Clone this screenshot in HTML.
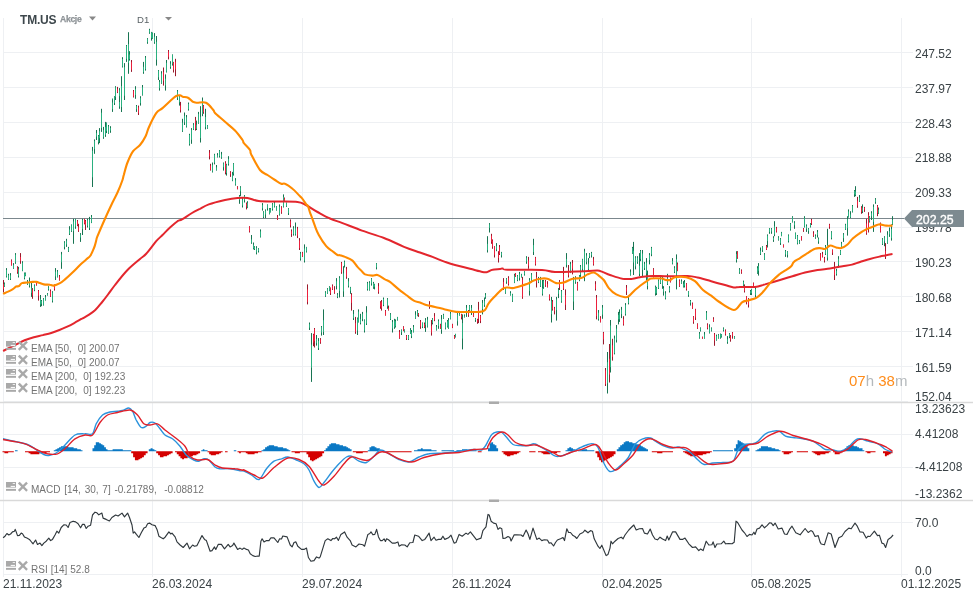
<!DOCTYPE html>
<html><head><meta charset="utf-8"><style>
html,body{margin:0;padding:0;background:#fff;width:976px;height:600px;overflow:hidden;position:relative;font-family:"Liberation Sans",sans-serif}
div{will-change:transform}
.yl{position:absolute;left:915px;font-size:12px;line-height:15px;color:#3a4246;white-space:nowrap}
.xl{position:absolute;top:577px;font-size:12px;line-height:15px;color:#3a4246;white-space:nowrap}
.lg{position:absolute;left:31px;font-size:10px;line-height:12px;color:#737373;white-space:pre;word-spacing:0.2px}
</style></head><body>
<svg width="976" height="600" viewBox="0 0 976 600" style="position:absolute;left:0;top:0"><g stroke="#eef0f3" stroke-width="1"><line x1="3" y1="52.5" x2="913" y2="52.5"/><line x1="3" y1="87.5" x2="913" y2="87.5"/><line x1="3" y1="122.5" x2="913" y2="122.5"/><line x1="3" y1="157.5" x2="913" y2="157.5"/><line x1="3" y1="192.5" x2="913" y2="192.5"/><line x1="3" y1="227.5" x2="913" y2="227.5"/><line x1="3" y1="261.5" x2="913" y2="261.5"/><line x1="3" y1="296.5" x2="913" y2="296.5"/><line x1="3" y1="331.5" x2="913" y2="331.5"/><line x1="3" y1="366.5" x2="913" y2="366.5"/><line x1="3" y1="401.5" x2="908" y2="401.5"/><line x1="3.5" y1="18" x2="3.5" y2="577"/><line x1="152.5" y1="18" x2="152.5" y2="577"/><line x1="302.5" y1="18" x2="302.5" y2="577"/><line x1="452.5" y1="18" x2="452.5" y2="577"/><line x1="602.5" y1="18" x2="602.5" y2="577"/><line x1="751.5" y1="18" x2="751.5" y2="577"/><line x1="901.5" y1="18" x2="901.5" y2="577"/><line x1="3" y1="434.5" x2="913" y2="434.5"/><line x1="3" y1="467.5" x2="913" y2="467.5"/><line x1="3" y1="522.5" x2="913" y2="522.5"/><line x1="3" y1="574.5" x2="908" y2="574.5"/></g><g stroke="#d9d9d9" stroke-width="1.5"><line x1="0" y1="402.5" x2="973" y2="402.5"/><line x1="0" y1="500.5" x2="973" y2="500.5"/></g><rect x="489" y="401.5" width="10" height="2.5" fill="#ababab"/><rect x="489" y="499.5" width="10" height="2.5" fill="#ababab"/><line x1="3" y1="218.5" x2="904" y2="218.5" stroke="#7b878d" stroke-width="1.2"/><path d="M736.5 251.2V262.5M739.5 268.1V273.8M757.5 266.2V273.8M758.5 263.1V275.6M760.5 247.5V255M762.5 246.2V251.9M764.5 253.1V260M767.5 234.4V247.5M769.5 228.1V233.8M771.5 228.1V233.8M773.5 236.2V241.9M774.5 221.2V236.2M778.5 236.2V240.6M780.5 238.1V245M781.5 231.9V236.2M785.5 250V256.9M787.5 251.2V257.5M788.5 234.4V242.5M790.5 223.1V230.6M792.5 216.2V222.5M794.5 221.2V228.8M795.5 232.5V238.8M797.5 235V244.4M799.5 240V243.8M804.5 216.2V227.5M806.5 224.4V231.9M808.5 228.1V233.8M810.5 223.1V227.5M815.5 234.4V238.8M817.5 230V237.5M818.5 237.5V243.8M825.5 245V255M827.5 228.8V260.6M831.5 231.2V239.4M836.5 268.8V275.6M838.5 256.2V267.5M840.5 250V255M841.5 241.9V247.5M843.5 233.1V241.9M845.5 223.8V230M847.5 216.2V235.6M848.5 209.4V217.5M850.5 211.2V218.1M852.5 205V212.5M854.5 190V196.9M855.5 186.2V196.2M859.5 195V201.9M862.5 204.4V213.1M869.5 216.2V222.5M871.5 211.2V220M873.5 204.4V231.9M875.5 198.1V203.8M878.5 207.5V213.8M882.5 238.1V245M884.5 236.2V246.2M887.5 231.2V243.8M889.5 227.5V236.9M891.5 224.4V240.6M892.5 216.2V225M4.5 282.5V286.9M6.5 268.1V277.5M8.5 273.8V280M10.5 273.1V280M13.5 263.1V268.8M15.5 253.1V263.8M18.5 266.9V277.5M22.5 261.2V271.2M24.5 272.5V279.4M25.5 272.5V276.2M27.5 280V285M29.5 277.5V287.5M31.5 282.5V296.9M34.5 284.4V291.2M40.5 295V306.9M41.5 300V306.2M43.5 298.1V305.6M45.5 295V300.6M47.5 293.1V295.6M48.5 286.2V290.6M52.5 291.2V302.5M55.5 268.1V280M57.5 270V277.5M61.5 251.9V268.8M64.5 241.2V249.4M66.5 238.8V246.9M68.5 246.9V251.9M69.5 226.2V235M71.5 224.4V231.9M73.5 218.8V243.8M75.5 218.8V228.8M80.5 233.1V241.9M82.5 218.8V235M87.5 218.8V227.5M89.5 216.9V230M91.5 215V223.1M92.5 146.9V187M94.5 139.4V153.8M96.5 130V140M98.5 135V144.4M99.5 128.1V143.1M101.5 108.8V131.9M103.5 126.9V138.8M105.5 121.9V136.9M106.5 122.5V133.1M108.5 125V133.8M110.5 126.2V132.8M182.5 118.8V131.9M184.5 112.5V125M186.5 115V127.5M189.5 133.8V145.6M191.5 128.1V143.8M193.5 123.1V130M196.5 120.6V130M198.5 111.9V123.8M200.5 106.2V142.5M205.5 108.8V129.4M207.5 125V128.8M112.5 98.8V99.8M114.5 96.2V105M115.5 86.2V100M119.5 88.1V102.5M121.5 76.2V112M122.5 57.2V67.5M124.5 63.1V100M126.5 45V61.9M128.5 32.2V73.8M129.5 51.2V60.6M135.5 86.2V98.8M142.5 85V95.6M143.5 61.9V73.8M145.5 56V70.6M147.5 38.1V43.8M149.5 28.8V33.8M151.5 31.9V40.6M152.5 32.5V38.8M154.5 33.1V43.8M156.5 36V65.6M158.5 70V80M159.5 80V90.6M161.5 71.2V83.8M165.5 74.4V90.6M166.5 60V72.5M170.5 61.2V68.8M172.5 54.4V65.6M177.5 90V100M112.5 98.8V111.9M119.5 97.5V108.8M121.5 95V111.9M136.5 105V111.9M140.5 96.2V105.6M179.5 95V105.6M188.5 102.5V110.6M202.5 97.5V116.2M212.5 162.5V172.5M214.5 153.8V164.4M216.5 165V170.6M217.5 153.1V157.5M219.5 150V157.5M221.5 151.9V158.8M223.5 162.5V170.6M226.5 163.8V175.6M228.5 156.2V165.6M232.5 171.9V181.2M233.5 163.1V175.6M235.5 178.1V185.6M239.5 195V203.8M240.5 186.2V196.2M242.5 197.5V207.5M244.5 195V202.5M247.5 201.2V208.1M251.5 235V243.8M253.5 242.5V249.4M254.5 246.2V250M256.5 246.2V254.4M258.5 248.1V252.5M260.5 229.4V237.5M262.5 203.1V210.6M263.5 211.2V218.1M265.5 209.4V218.1M267.5 204.4V210.6M269.5 208.1V214.4M270.5 208.1V212.5M272.5 203.1V210.6M274.5 201.9V207.5M276.5 206.2V210.6M279.5 204.4V215.6M283.5 194.4V207.5M286.5 202.5V206.9M288.5 208.1V215M293.5 226.2V235.6M295.5 222.5V235.6M300.5 251.9V260.6M304.5 244.4V262.5M306.5 246.9V252.5M309.5 322.5V330M321.5 326.2V335M323.5 309.4V335M325.5 291.2V296.9M327.5 288.1V293.8M329.5 286.2V291.2M336.5 278.1V289.4M337.5 293.1V298.1M339.5 276.2V297.5M343.5 266.2V296.9M344.5 260.6V267.5M348.5 278.1V287.5M350.5 286.9V293.8M353.5 310V320M357.5 317.5V335M358.5 309.4V322.5M360.5 313.8V324.4M362.5 311.9V321.2M364.5 319.4V332.5M366.5 306.2V325M367.5 281.9V290.6M369.5 281.2V290.6M371.5 278.1V285.6M373.5 281.9V288.8M374.5 283.8V289.4M376.5 263.1V269.4M383.5 297.5V306.2M387.5 298.1V308.8M390.5 313.1V320M392.5 320V332.5M394.5 318.8V328.8M395.5 319.4V327.5M397.5 316.9V320.6M415.5 311.2V318.8M417.5 310V316.2M311.5 333.1V381.9M316.5 335V345.6M318.5 338.1V350M321.5 326.2V335.6M401.5 329.4V335M404.5 329.4V332.5M408.5 335V340M410.5 328.1V333.8M411.5 330V338.1M413.5 325V332.5M487.5 236.2V252.5M489.5 223.1V232.5M496.5 243.1V251.2M501.5 251.9V257.5M506.5 278.1V283.8M514.5 273.8V283.1M517.5 275V281.2M519.5 271.9V280.6M521.5 273.8V277.5M524.5 271.2V275.6M526.5 256.2V263.8M529.5 278.1V290M531.5 273.1V282.5M533.5 238.8V255M538.5 276.9V283.1M540.5 276.9V286.9M422.5 322.5V328.1M425.5 318.1V331.9M427.5 316.9V327.5M432.5 318.1V324.4M436.5 325V330.6M438.5 319.4V328.8M441.5 315V333.8M443.5 313.8V318.8M445.5 322.5V329.4M447.5 320V327.5M448.5 318.1V328.8M450.5 311.9V319.4M455.5 333.8V337.5M457.5 313.1V325.6M459.5 313.1V315.6M462.5 314.4V349.4M464.5 314.4V317.5M466.5 305V316.9M469.5 305V311.9M471.5 305V315M475.5 318.1V321.9M482.5 300V314.4M484.5 297.5V306.9M485.5 293.1V298.8M505.5 287.5V293.8M510.5 291.2V295.6M512.5 293.8V301.9M529.5 280V295.6M542.5 280V295.6M543.5 280V288.8M551.5 297.5V307.5M556.5 297.5V307.5M558.5 288.1V298.1M561.5 294.4V302.5M566.5 253.1V267.5M570.5 261.9V273.1M573.5 276.9V310M575.5 276.2V283.8M579.5 275V281.2M580.5 265V276.9M582.5 258.8V271.2M584.5 248.8V281.2M586.5 253.1V264.4M588.5 258.1V271.2M589.5 253.1V258.1M591.5 251.9V257.5M630.5 269.4V275.6M632.5 246.9V253.8M633.5 241.9V275M635.5 256.2V269.4M637.5 256.2V263.8M639.5 253.1V276.2M640.5 250V261.2M642.5 250V276.2M644.5 261.9V270M646.5 258.1V280.6M647.5 270.6V289.4M649.5 253.1V264.4M651.5 246.9V256.2M655.5 285.6V295.6M656.5 286.9V295M658.5 279.4V288.8M660.5 277.5V283.8M551.5 296.9V322.5M556.5 296.9V320.6M561.5 290V302.5M598.5 310V320.6M602.5 305V318.8M614.5 335.6V354.4M616.5 325V342.5M618.5 311.9V324.4M619.5 309.4V321.9M621.5 306.9V318.1M625.5 303.1V315.6M628.5 296.9V304.4M607.5 352V393.5M610.5 320V372.5M658.5 280V288.8M660.5 276.9V283.8M662.5 276.9V288.8M663.5 286.2V295.6M665.5 291.2V299.4M667.5 273.8V285M669.5 286.2V292.5M672.5 258.1V264.4M674.5 266.2V273.1M676.5 254.4V289.4M681.5 279.4V283.8M683.5 281.2V287.5M684.5 280V287.5M688.5 291.2V296.9M690.5 300V305.6M743.5 280.6V286.2M750.5 290V295M751.5 288.8V295M755.5 287.5V297.5M700.5 327.4V331.5M699.5 332V338.7M704.5 332V338.7M706.5 311V319.7M709.5 324.3V333.5M711.5 327.4V331.5M716.5 334.6V340.7M718.5 334.1V338.7M720.5 333.5V338.7M721.5 334.1V337.6M723.5 327.4V331.5M727.5 336.1V343.8M729.5 333V338.2M734.5 336.1V338.7" stroke="#187452" stroke-width="1" fill="none"/><path d="M736.5 254V260.2M739.5 269.5V272.7M757.5 268.2V272.9M758.5 265.9V270.8M760.5 250.8V253.7M762.5 246.6V250.3M764.5 254.3V259.8M767.5 235.6V241.1M769.5 228.6V231.9M771.5 229.1V231.6M773.5 237.9V240M774.5 226.3V234.5M778.5 237.4V239.9M780.5 239.2V243M781.5 232.6V236.1M785.5 251.1V254.5M787.5 251.9V254.9M788.5 235.4V241.1M790.5 224V229.5M792.5 217.3V222.1M794.5 222.7V225.3M795.5 233.2V238M797.5 235.8V243.3M799.5 241.4V242.8M804.5 217.9V226.7M806.5 225.8V228.8M808.5 228.8V231M810.5 223.5V226.6M815.5 235.9V237.7M817.5 232V235M818.5 238.7V241.5M825.5 246.6V253.9M827.5 245V257.6M831.5 232.2V237.9M836.5 270.9V274M838.5 258.8V264.6M840.5 250.5V254.4M841.5 243.5V247M843.5 234.4V238.2M845.5 224.8V229.6M847.5 219.2V228.2M848.5 211.5V217M850.5 214.4V217.4M852.5 206.1V211.7M854.5 190.7V194.4M855.5 191.5V195.1M859.5 197.7V200.9M862.5 207.6V211.4M869.5 216.7V221.5M871.5 213.2V216.3M873.5 206.8V221.9M875.5 199.4V201.9M878.5 209.9V213.1M882.5 239.4V244M884.5 237.3V241.4M887.5 234.7V243M889.5 231.1V234.4M891.5 229V238.2M892.5 220V224.3M4.5 283.6V286.6M6.5 270V276.4M8.5 275.2V279.6M10.5 275.3V278.7M13.5 265V268M15.5 254.7V262.5M18.5 269.2V275.8M22.5 262.8V270.8M24.5 273.4V278.1M25.5 273.2V275.7M27.5 281.7V284.4M29.5 281.6V285.5M31.5 287.7V292.9M34.5 285.5V290.1M40.5 298.8V304.6M41.5 300.9V303.7M43.5 299.2V304.9M45.5 297V300.1M47.5 293.9V295.1M48.5 287.4V289.3M52.5 292.4V300.8M55.5 271.6V276.5M57.5 271.5V277M61.5 254.3V262.3M64.5 242.5V247M66.5 240.7V244.4M68.5 247.8V250.9M69.5 229.5V233.8M71.5 225.1V231M73.5 221.4V231M75.5 219.2V226.6M80.5 234.5V237.6M82.5 220V229M87.5 220.2V225.8M89.5 219.8V228.1M91.5 216.9V222.7M92.5 150.8V177.3M94.5 141.1V149.2M96.5 133.1V136.6M98.5 135.8V142.1M99.5 131.2V138.3M101.5 112.7V128.1M103.5 129.9V137.3M105.5 126.9V134.8M106.5 123V131.1M108.5 126.3V133.1M110.5 128V130.7M182.5 122.6V130.8M184.5 115.8V122.3M186.5 117.2V126.6M189.5 135V144.2M191.5 129.8V139.8M193.5 124.7V129.4M196.5 124.7V128.9M198.5 113.9V123.3M200.5 116.7V138.1M205.5 117V127.2M207.5 125.4V128.1M112.5 98.8V99.4M114.5 96.7V103M115.5 87.3V97.1M119.5 90.3V96.2M121.5 86.1V106.9M122.5 59V66.5M124.5 67.2V95.8M126.5 45.8V58.9M128.5 44.1V62.8M129.5 54.5V59M135.5 88.9V95M142.5 87.2V95M143.5 66.8V72.1M145.5 57.6V69.1M147.5 38.8V42.2M149.5 29.8V32.7M151.5 32.4V37.9M152.5 33.2V38.1M154.5 36.7V42.3M156.5 41.8V59.7M158.5 70.7V77.3M159.5 81.9V88.2M161.5 73.4V83.2M165.5 78.7V85.4M166.5 62.8V71.7M170.5 63.7V67M172.5 55V63.6M177.5 91.3V97.9M112.5 102.5V109.2M119.5 102V106.5M121.5 100.1V106.9M136.5 106.1V109.2M140.5 98.2V103.1M179.5 96.1V102.4M188.5 104V109.2M202.5 100.4V114.1M212.5 164.8V171.6M214.5 154.7V162.7M216.5 167.3V170M217.5 155.2V157.1M219.5 150.5V156.1M221.5 154.3V157.5M223.5 163.4V167.2M226.5 164.6V173M228.5 159V164M232.5 174.4V180.6M233.5 163.7V173.6M235.5 180.3V184.6M239.5 196V199.8M240.5 187.3V191.3M242.5 199.6V205.5M244.5 195.7V200.3M247.5 202.8V207.8M251.5 239.4V242.7M253.5 244.6V248.4M254.5 247.1V249M256.5 247.8V252.5M258.5 248.4V251.1M260.5 231.4V236.8M262.5 205.1V208.4M263.5 212.2V216.9M265.5 210.7V214.5M267.5 204.8V208.4M269.5 209.2V213.9M270.5 209.2V212.1M272.5 204.3V209.1M274.5 203V206.4M276.5 206.9V210.4M279.5 206.8V214.5M283.5 196.9V206.7M286.5 203.1V206.1M288.5 208.6V213.2M293.5 228.2V234.2M295.5 228.3V234.3M300.5 253.4V258.6M304.5 248.5V260.6M306.5 247.1V251.5M309.5 324.2V327.7M321.5 327.2V331.7M323.5 320.2V332M325.5 292.4V295.8M327.5 288.8V293.2M329.5 286.9V290.8M336.5 281.2V286M337.5 294.6V296.7M339.5 277.8V291.1M343.5 273.4V291.4M344.5 261.8V265.3M348.5 281.3V285.8M350.5 287.4V290.8M353.5 313.9V318.1M357.5 318.5V330.5M358.5 311.6V322M360.5 318.9V323M362.5 313.9V319M364.5 320.3V330.6M366.5 312.5V323.5M367.5 283.2V289.1M369.5 282.7V290.1M371.5 278.8V283.4M373.5 283.1V287.4M374.5 284.3V286.8M376.5 263.7V267.4M383.5 298.9V305M387.5 299.2V306.4M390.5 314.3V319.2M392.5 322.1V328.5M394.5 320.6V327.2M395.5 321.2V326.2M397.5 317.2V319.8M415.5 314.6V318.1M417.5 311.1V315.9M311.5 344.6V367.7M316.5 339V343.2M318.5 341V348.1M321.5 328.3V332.5M401.5 330.2V332.3M404.5 329.7V331.8M408.5 335.6V339.2M410.5 329.8V333.4M411.5 332.2V336.2M413.5 326.9V332M487.5 243.8V250.2M489.5 224.3V227.9M496.5 245.9V249.5M501.5 252.6V255.3M506.5 278.8V281.7M514.5 275.5V282.7M517.5 275.7V280.1M519.5 273.8V278.1M521.5 274.4V277.3M524.5 272.1V274.4M526.5 257.7V261.7M529.5 280V288.4M531.5 274.5V281.3M533.5 245.1V252M538.5 278.3V282M540.5 278.2V286M422.5 322.8V326.8M425.5 319.9V325.2M427.5 319.5V326.8M432.5 318.8V322.9M436.5 326.6V329.9M438.5 321.1V326M441.5 319.2V329.9M443.5 314.8V318.2M445.5 323.2V328.5M447.5 321.3V326.7M448.5 320.1V327.9M450.5 313.5V318.9M455.5 334.2V336.9M457.5 314.6V321.3M459.5 313.8V315.5M462.5 323.1V338.6M464.5 315.7V317.2M466.5 307.7V312.2M469.5 305.6V310.4M471.5 307.9V311.7M475.5 318.7V320M482.5 302.8V309.1M484.5 301.2V305.2M485.5 294.7V297.4M505.5 288.4V292.8M510.5 293V295.1M512.5 294.5V300.7M529.5 282.1V290.9M542.5 288V293.8M543.5 281.1V287.3M551.5 300.6V304.2M556.5 299.4V306.1M558.5 289.6V293.8M561.5 295.5V301.5M566.5 258.9V264.9M570.5 264.1V272.3M573.5 279.2V301.5M575.5 277.8V282.1M579.5 275.6V280.2M580.5 266.5V274.9M582.5 259.4V268.9M584.5 251.4V274.9M586.5 255.5V262.2M588.5 263.7V269.2M589.5 254.1V256.5M591.5 253.1V255.3M630.5 271.7V275.1M632.5 248V253M633.5 250.7V262.5M635.5 257.6V266.4M637.5 257.6V262.2M639.5 265.7V273.9M640.5 251V258.9M642.5 253.5V269.9M644.5 263.9V268.2M646.5 262.6V273.5M647.5 276.1V286M649.5 254.9V260.1M651.5 248V254.4M655.5 286.9V293.6M656.5 287.4V293.2M658.5 280.6V284.4M660.5 278.9V283M551.5 303.2V314.2M556.5 300.1V310.1M561.5 291.2V297.8M598.5 312.7V318.9M602.5 307.5V314.7M614.5 338.4V353.2M616.5 328.6V339.9M618.5 314.9V319.4M619.5 313.1V319.4M621.5 309.7V314.2M625.5 305.1V314.2M628.5 299.9V303M607.5 362.2V383.3M610.5 325.5V367.2M658.5 282.1V288M660.5 280V283M662.5 278.1V285.6M663.5 288.1V291.7M665.5 293.3V298.2M667.5 278.3V283.9M669.5 287.7V290.9M672.5 261V263.6M674.5 267.8V271.8M676.5 259V280.1M681.5 281.3V283M683.5 283.8V286.8M684.5 282.2V285.7M688.5 291.7V295.1M690.5 301V303M743.5 281.9V285.6M750.5 291.2V293.3M751.5 289.4V293.2M755.5 289V295.1M700.5 328.2V330.5M699.5 333.6V337.8M704.5 334.4V338.2M706.5 312.8V319.1M709.5 327.2V332.8M711.5 328.3V330.7M716.5 336.1V340.3M718.5 334.9V338M720.5 334.1V337.7M721.5 334.3V336.5M723.5 328.5V330.2M727.5 339.2V342M729.5 333.7V336.7M734.5 336.6V338.6" stroke="#2ab07f" stroke-width="1" fill="none"/><path d="M737.5 251.2V258.8M741.5 269.4V273.8M766.5 245V250M776.5 226.9V232.5M783.5 244.4V247.5M801.5 236.2V240.6M803.5 228.1V231.9M811.5 218.8V225M813.5 231.2V236.9M820.5 253.1V260.6M822.5 251.9V257.5M824.5 256.9V262.5M829.5 223.8V228.8M832.5 249.4V255M834.5 261.9V280M857.5 196.9V207.8M861.5 206.2V213.8M864.5 206.9V211.9M866.5 218.8V234.8M868.5 212.2V232.5M877.5 205V216.2M880.5 222.5V232.5M885.5 243.1V259M3.5 280V292.5M11.5 259.4V265.6M17.5 266.2V273.8M20.5 253.1V263.8M32.5 288.1V298.8M36.5 281.9V285.6M38.5 290V300.6M50.5 289.4V296.9M54.5 284.4V290.6M59.5 275V280.6M77.5 220V226.2M78.5 223.8V231.9M84.5 218.8V224.4M85.5 220V230M195.5 116.9V130.6M209.5 150V159.4M210.5 163.8V170.6M117.5 86.9V93.1M131.5 60V71.9M133.5 90V97.5M163.5 67.5V85.6M168.5 50V59.4M173.5 61.9V72.5M175.5 58.8V76.2M138.5 105.6V115M180.5 101.9V112.5M203.5 105V113.8M225.5 161.2V174.4M230.5 171.2V176.9M237.5 186.2V189.4M246.5 202.5V209.4M249.5 226.2V232.5M277.5 215V220M281.5 206.2V213.8M284.5 197.5V201.2M290.5 219.4V227.5M291.5 229.4V236.9M297.5 226.9V238.1M299.5 238.1V250M302.5 251.9V256.9M307.5 284.4V304.4M314.5 328.1V332.5M330.5 287.5V295M332.5 284.4V290M334.5 286.2V293.8M341.5 261.9V273.8M346.5 266.9V278.8M351.5 293.1V310.6M355.5 316.9V333.8M378.5 283.1V293.8M380.5 301.2V308.8M381.5 300V310.6M385.5 310V315.6M388.5 305.6V310.6M418.5 313.1V316.9M313.5 333.8V346.2M314.5 328.1V347.5M320.5 338.1V343.8M399.5 330V338.8M403.5 326.2V331.2M406.5 335V340M420.5 320V328.8M491.5 233.8V243.8M492.5 239.4V248.8M494.5 246.2V257.5M498.5 251.2V262.5M499.5 245V255M503.5 278.1V290M508.5 276.2V285.6M515.5 273.1V276.9M522.5 276.9V290M528.5 256.9V268.8M535.5 256.9V265.6M536.5 271.9V287.5M424.5 322.5V328.1M429.5 301.2V308.8M431.5 320V335.6M434.5 313.1V321.2M440.5 323.8V328.8M452.5 323.8V328.1M454.5 335V338.8M461.5 313.8V319.4M468.5 310V316.9M473.5 313.1V316.9M477.5 318.8V323.8M478.5 301.9V323.1M480.5 315V323.1M522.5 280V298.8M545.5 280V286.9M547.5 281.2V287.5M549.5 294.4V300.6M552.5 300V308.8M559.5 280V290M563.5 266.9V290M565.5 289.4V310M568.5 265V277.5M572.5 260V274.4M577.5 281.9V290.6M593.5 256.9V265.6M595.5 281.2V290.6M626.5 285V295M653.5 268.1V277.5M552.5 300V310.6M554.5 306.9V314.4M596.5 295V319.4M600.5 316.2V322.5M603.5 331.9V344.4M612.5 338.8V360.6M623.5 316.2V325.6M605.5 368V386M609.5 344V382.5M670.5 277.5V282.5M677.5 262.5V271.2M679.5 279.4V286.9M686.5 283.1V290.6M692.5 302.5V308.8M695.5 308.8V320M744.5 284.4V292.5M746.5 296.2V304.4M748.5 298.1V307.5M753.5 282.5V287.5M695.5 309V316.6M693.5 316.1V323.8M697.5 323.3V328.9M702.5 336.6V338.7M707.5 323.3V329.4M713.5 317.2V321.8M714.5 333V345.8M725.5 329.4V335.6M730.5 335.1V341.7M732.5 332V338.7" stroke="#9a1a2c" stroke-width="1" fill="none"/><path d="M737.5 252.1V257.8M741.5 270.6V272.5M766.5 246V249.3M776.5 228.3V231.6M783.5 244.9V247.2M801.5 236.7V239.8M803.5 229V230.5M811.5 219.9V223.7M813.5 233.4V235.8M820.5 254.3V260.2M822.5 254.1V256.8M824.5 258.2V260.7M829.5 224.7V226.9M832.5 250V252.7M834.5 268V275.1M857.5 200.7V205.6M861.5 207.3V211.9M864.5 207.8V209.7M866.5 223.5V233.1M868.5 214.9V227.6M877.5 206.1V212.9M880.5 223.8V231.7M885.5 251.1V256.8M3.5 284.1V288.9M11.5 260.5V265.3M17.5 267.4V272.1M20.5 257V261.1M32.5 289.6V295.6M36.5 283V285.3M38.5 290.9V295.8M50.5 291.1V296.4M54.5 285.3V289.1M59.5 276.5V280.3M77.5 221.1V225.3M78.5 226.7V230.6M84.5 219.2V223.3M85.5 221.1V225.2M195.5 120.1V128.9M209.5 152.6V156.3M210.5 165.7V169.8M117.5 89.1V92.2M131.5 62.2V69.8M133.5 91.1V96.6M163.5 72.1V80.7M168.5 51.5V56.8M173.5 62.4V69.8M175.5 61.8V69.4M138.5 107.4V112.9M180.5 105.4V110.1M203.5 105.7V112.2M225.5 162.9V172.4M230.5 172.3V174.3M237.5 187.1V188.9M246.5 203.6V206.6M249.5 226.6V231.4M277.5 217.1V219.4M281.5 207.2V212.5M284.5 198.4V200.9M290.5 221.3V225.4M291.5 231.3V234M297.5 228.4V235.7M299.5 240.4V248.1M302.5 252.5V256.5M307.5 289.4V301.9M314.5 328.9V330.5M330.5 287.9V293.3M332.5 285.8V289.3M334.5 290V292.8M341.5 263.1V272.3M346.5 269.2V276.8M351.5 294.8V302.9M355.5 323.1V332M378.5 286.1V291.9M380.5 302.4V306.5M381.5 301.8V308.3M385.5 310.9V315.4M388.5 307.9V310M418.5 313.6V315M313.5 334.8V342.7M314.5 329.7V341.2M320.5 339.4V342.4M399.5 332V338M403.5 327.1V330.7M406.5 335.8V338.5M420.5 321.6V326.4M491.5 235.7V241.7M492.5 240.5V246.7M494.5 246.9V254.8M498.5 253.8V258.1M499.5 247.1V253.8M503.5 281.9V288M508.5 278V284.2M515.5 273.5V276.4M522.5 279.7V285.8M528.5 260.5V265.7M535.5 257.6V264.2M536.5 277V282.6M424.5 324.1V327.4M429.5 304V306.9M431.5 326.1V332.6M434.5 316.2V319.8M440.5 324.4V328.3M452.5 324.3V327.7M454.5 336V338.2M461.5 314.5V317.4M468.5 312.5V315.2M473.5 314.3V316.6M477.5 319.6V321.8M478.5 309.4V319.1M480.5 316V321M522.5 286.2V297.4M545.5 281.4V285.5M547.5 284V287M549.5 295.1V299.1M552.5 303V307.5M559.5 281.7V286.6M563.5 274V288.7M565.5 295.1V304.8M568.5 270.9V275.3M572.5 263V268.6M577.5 283V289.8M593.5 259.4V264.3M595.5 284.1V288.9M626.5 287.6V291.5M653.5 269.3V276.5M552.5 301.6V309.4M554.5 308.3V311.2M596.5 297.6V316.2M600.5 317.6V322M603.5 332.8V339.5M612.5 345.3V356.9M623.5 319V324.4M605.5 370.3V384M609.5 358.7V374.6M670.5 280V282M677.5 264.3V270.9M679.5 280.6V286M686.5 283.7V289.1M692.5 303.5V308.5M695.5 310.2V317.5M744.5 286.6V290.8M746.5 296.6V302.4M748.5 300.6V304.8M753.5 283.2V286.1M695.5 309.4V314.4M693.5 316.8V321.8M697.5 324V328.4M702.5 337V338.5M707.5 324.6V327.9M713.5 318.8V321.3M714.5 334.3V340.6M725.5 330.6V334.1M730.5 336.5V339.8M732.5 332.7V335.8" stroke="#ec1f3c" stroke-width="1" fill="none"/><path d="M3.1 351 C4.3 350.4 7.8 348.6 10.2 347.4 C12.6 346.2 15 345 17.4 343.8 C19.8 342.6 21.9 341.3 24.6 340.2 C27.3 339.1 30.7 338 33.8 337.2 C36.9 336.4 40.1 335.8 43 335.1 C45.9 334.4 48.5 333.9 51.2 333 C53.9 332.1 56.8 331 59.4 330 C62 329 64.2 328 66.6 326.9 C69 325.8 71.2 324.7 73.8 323.3 C76.4 321.9 79.5 320.1 82 318.7 C84.5 317.2 86.9 316.1 89.1 314.6 C91.3 313.2 93.3 311.9 95.3 310 C97.3 308.1 98.9 306.1 101 303.5 C103.1 300.9 105.7 297.6 108 294.5 C110.3 291.4 111.8 289.1 115 285 C118.2 280.9 123.3 274.3 127.5 270 C131.7 265.7 136.9 261.7 140 259 C143.1 256.3 143.5 256.7 146.2 253.8 C149 250.8 153.5 244.4 156.2 241.2 C159 238.1 160.2 237.3 162.5 235 C164.8 232.7 167.5 229.8 170 227.5 C172.5 225.2 175.5 222.6 177.5 221.2 C179.5 219.9 179.6 220.8 182 219.4 C184.4 218 189 214.8 192 213 C195 211.2 197.2 210.2 200 208.8 C202.8 207.3 204.6 205.9 208.8 204.4 C212.9 202.9 220.2 201.1 225 200 C229.8 198.9 233.8 198.2 237.5 197.9 C241.2 197.6 244 197.4 247.5 197.9 C251 198.4 253.8 200.4 258.8 201 C263.8 201.6 271 201.3 277.5 201.5 C284 201.7 292.9 201.4 297.5 201.9 C302.1 202.4 301.7 202.8 305 204.5 C308.3 206.2 313.3 209.7 317.5 212 C321.7 214.3 325.8 216.7 330 218.5 C334.2 220.3 337.2 221.1 342.5 223.1 C347.8 225.1 355.1 228.1 362 230.6 C368.9 233.1 377 235.3 384 238 C391 240.7 398 244.3 404 246.8 C410 249.2 415.2 250.8 420 252.5 C424.8 254.2 428.3 255.3 432.5 256.9 C436.7 258.5 441.2 260.5 445 261.9 C448.8 263.2 450.8 263.9 455 265 C459.2 266.1 465.4 267.6 470 268.8 C474.6 269.9 479.6 271.4 482.5 271.9 C485.4 272.4 485.8 272.3 487.5 271.9 C489.2 271.5 490.4 270.2 492.5 269.8 C494.6 269.3 498.3 269.3 500 269.1 C501.7 268.9 501.2 268.4 502.5 268.5 C503.8 268.6 500.9 269.5 507.5 269.8 C514.1 270 534.1 269.5 542 269.9 C549.9 270.3 547.8 271.7 555 271.9 C562.2 272.1 577.9 271.5 585 271.2 C592.1 271 594.6 270.5 597.5 270.6 C600.4 270.7 600.4 271.2 602.5 271.9 C604.6 272.6 606.7 273.9 610 275 C613.3 276.1 618.8 278.1 622.5 278.8 C626.2 279.4 629.6 279 632.5 278.8 C635.4 278.5 636.7 277.7 640 277.2 C643.3 276.8 647.9 276.2 652.5 276 C657.1 275.8 661.7 276.3 667.5 276.3 C673.3 276.3 682.5 275.8 687.5 276 C692.5 276.2 693.5 276.6 697.5 277.5 C701.5 278.4 706.7 280 711.2 281.2 C715.8 282.5 721.2 284 725 285 C728.8 286 731.2 287.2 733.8 287.5 C736.2 287.8 736.5 287 740 286.9 C743.5 286.8 750.8 287.3 755 286.9 C759.2 286.5 760.8 285.5 765 284.4 C769.2 283.2 775.4 281.4 780 280 C784.6 278.6 788.3 277.5 792.5 276.2 C796.7 275 800.8 273.5 805 272.5 C809.2 271.5 813.3 270.7 817.5 270 C821.7 269.3 825.8 269.1 830 268.5 C834.2 267.9 838.8 266.9 842.5 266.2 C846.2 265.6 849.1 265.3 852 264.6 C854.9 263.9 857 262.9 860 262 C863 261.1 866.7 259.9 870 259 C873.3 258.1 877.5 257.1 880 256.5 C882.5 255.9 882.9 255.9 885 255.5 C887.1 255.1 891.2 254.2 892.5 254" stroke="#e3262d" stroke-width="2" fill="none" stroke-linejoin="round"/><path d="M3.1 293.8 C3.8 293.4 5.9 292.6 7.5 291.9 C9.1 291.2 11 290.3 12.5 289.4 C14 288.5 15.2 287 16.2 286.5 C17.3 286 17.8 286.8 18.8 286.2 C19.7 285.7 20.4 283.7 21.9 283.1 C23.4 282.5 25.7 282.7 27.5 282.5 C29.3 282.3 31 282 32.5 281.9 C34 281.8 35 281.7 36.2 281.9 C37.5 282.1 38.8 282.7 40 283.1 C41.2 283.5 42.1 284.1 43.8 284.4 C45.4 284.7 48.3 284.6 50 284.8 C51.7 284.9 52.1 285.9 53.8 285.6 C55.4 285.3 58.1 284.1 60 283.1 C61.9 282.1 62.9 281.2 65 279.4 C67.1 277.6 70 274.9 72.5 272.5 C75 270.1 77.7 267.2 80 265 C82.3 262.8 84.5 261.1 86.2 259.5 C88 257.9 89.2 257.4 90.5 255.5 C91.8 253.6 93 250.5 94 248 C95 245.5 95.7 242.5 96.2 240.5 C96.8 238.5 96 239.9 97.5 236.2 C99 232.6 102.5 224.4 105 218.8 C107.5 213.1 110.4 206.9 112.5 202.5 C114.6 198.1 115.8 196.2 117.5 192.5 C119.2 188.8 121.5 182.9 122.5 180 C123.5 177.1 122.9 177.9 123.8 175 C124.6 172.1 125.9 166.5 127.5 162.5 C129.1 158.5 131 154.2 133.1 151.2 C135.2 148.3 137.9 147.5 140 145 C142.1 142.5 144.1 139.2 145.6 136.2 C147.1 133.3 147 131.4 148.8 127.5 C150.5 123.6 154 116.3 156.2 113.1 C158.5 109.9 160 110.3 162.5 108.1 C165 105.9 169 102 171.2 100 C173.5 98 174.8 96.8 176.2 96 C177.7 95.2 178.9 95.2 180 95.3 C181.1 95.4 181.4 96.3 182.7 96.7 C184 97.1 186.3 96.9 188 97.7 C189.7 98.5 191.2 100.9 192.7 101.7 C194.1 102.5 194.5 102.5 196.7 102.7 C198.9 102.9 203.2 101.5 206 102.7 C208.8 103.9 211.8 108.3 213.3 110 C214.8 111.7 213.1 111 215 113 C216.9 115 221.7 118.8 225 121.8 C228.3 124.7 232.1 127.5 235 130.5 C237.9 133.5 241 137.9 242.5 140 C244 142.1 242.5 141.3 243.8 143 C245 144.7 248.8 148.1 250 150 C251.2 151.9 249.6 151.1 251.2 154.4 C252.9 157.7 257.3 166.6 260 170 C262.7 173.4 265 173.3 267.5 175 C270 176.7 272.7 178.5 275 180 C277.3 181.5 279.6 183.1 281.2 183.8 C282.9 184.4 283.1 182.9 285 183.8 C286.9 184.6 290 186.7 292.5 188.8 C295 190.8 298.3 194.6 300 196.2 C301.7 197.9 301.5 197.4 302.5 198.8 C303.5 200.1 305.3 203.2 306.2 204.4 C307.2 205.7 307.4 204.9 308 206.2 C308.6 207.6 309.4 210.6 310 212.5 C310.6 214.4 311.1 215.2 311.9 217.5 C312.7 219.8 313.9 223.3 315 226.2 C316.1 229.2 316.9 231.7 318.8 235 C320.6 238.3 324 243.5 326.2 246.2 C328.5 249 330.6 249.8 332.5 251.2 C334.4 252.7 336.2 254.3 337.5 255 C338.8 255.7 338.8 254.9 340 255.2 C341.2 255.6 342.9 256 345 256.9 C347.1 257.8 350.4 258.9 352.5 260.6 C354.6 262.3 356 265.2 357.5 266.9 C359 268.6 360 269.4 361.2 270.6 C362.5 271.9 363.1 273.6 365 274.4 C366.9 275.2 370.4 275.5 372.5 275.6 C374.6 275.7 375.4 274.4 377.5 275 C379.6 275.6 382.9 278.2 385 279.4 C387.1 280.5 387.7 280.2 390 281.9 C392.3 283.6 396 287.2 398.8 289.4 C401.5 291.6 403.8 293.1 406.2 295 C408.8 296.9 411.5 299.4 413.8 300.6 C416 301.9 417.9 301.8 420 302.5 C422.1 303.2 423.8 304.3 426.2 305 C428.8 305.7 431.9 306.2 435 306.9 C438.1 307.6 441.5 308.6 445 309.4 C448.5 310.2 452.1 311.5 456.2 311.9 C460.4 312.3 466 311.9 470 311.9 C474 311.9 477.5 312.2 480 311.9 C482.5 311.6 483.5 311.5 485 310 C486.5 308.5 487.1 305.4 488.8 303.1 C490.4 300.8 492.7 298.6 495 296.2 C497.3 293.9 500.4 290.2 502.5 288.8 C504.6 287.3 505.8 287.6 507.5 287.5 C509.2 287.4 510.4 288.3 512.5 288.1 C514.6 287.9 517.5 287 520 286.2 C522.5 285.5 525.2 284.7 527.5 283.8 C529.8 282.8 531.7 281.4 533.8 280.6 C535.8 279.8 537.7 279.1 540 278.8 C542.3 278.4 544.8 278 547.5 278.8 C550.2 279.5 553.5 282.5 556.2 283.1 C559 283.7 561 283.2 563.8 282.5 C566.5 281.8 569.6 279.5 572.5 278.8 C575.4 278 578.8 278.8 581.2 278.1 C583.8 277.4 585.4 275.3 587.5 274.4 C589.6 273.5 591.9 272.3 593.8 272.5 C595.6 272.7 597.1 274.4 598.8 275.6 C600.4 276.9 602.1 277.9 603.8 280 C605.4 282.1 606.7 285.7 608.8 288.1 C610.8 290.5 613.5 292.9 616.2 294.4 C619 295.9 622.9 296.9 625 297.2 C627.1 297.6 627.1 297.5 628.8 296.2 C630.4 295 632.9 291.9 635 290 C637.1 288.1 639.2 286.6 641.2 285 C643.3 283.4 645.8 281.7 647.5 280.6 C649.2 279.5 648.8 278.9 651.2 278.5 C653.7 278.1 659.7 278.3 662 278.5 C664.3 278.7 663.7 279.5 665 279.8 C666.3 280 668.3 280.4 670 280 C671.7 279.6 672.3 277.7 675 277.2 C677.7 276.8 682.9 276.6 686.2 277.2 C689.6 277.9 692.2 279.1 695 281.2 C697.8 283.4 700.3 287.6 703 290 C705.7 292.4 708.6 293.7 711.2 295.6 C713.8 297.5 714.8 299.1 718.6 301.5 C722.4 303.9 729.9 309.9 733.8 310 C737.7 310.1 739.6 303.9 742 302.3 C744.4 300.7 745.7 301.1 748.1 300.4 C750.5 299.6 753.9 299.1 756.3 297.8 C758.7 296.5 760.2 294.9 762.5 292.5 C764.8 290.1 768.2 285.2 770 283.1 C771.8 281 771.4 281.6 773.1 280 C774.8 278.4 778 275.3 780 273.8 C782 272.2 783.1 271.9 785 270.6 C786.9 269.4 789.8 267.7 791.2 266.2 C792.7 264.8 792.3 263.3 793.8 261.9 C795.2 260.5 797.7 259.6 800 258.1 C802.3 256.6 805 254.7 807.5 253.1 C810 251.5 812.9 249.6 815 248.8 C817.1 247.9 818.3 248.1 820 248.1 C821.7 248.1 823.3 249.4 825 249 C826.7 248.6 828.1 245.8 830 245.6 C831.9 245.3 834.4 247.1 836.2 247.5 C838.1 247.9 839.4 248.6 841.2 248.1 C843.1 247.6 845.6 246.1 847.5 244.5 C849.4 242.9 850.6 240.5 852.5 238.8 C854.4 237 856.5 235.3 858.8 233.8 C861 232.2 864 230.5 866.2 229.4 C868.5 228.3 870.6 227.7 872.5 226.9 C874.4 226.1 876.2 225.2 877.5 224.8 C878.8 224.3 878.5 224.3 880 224.4 C881.5 224.5 884.2 225.4 886.2 225.6 C888.3 225.8 891.5 225.6 892.5 225.6" stroke="#ff8b00" stroke-width="2.1" fill="none" stroke-linejoin="round"/><path d="M15 450.2 H17.6 V451.2 H15 ZM53.8 450.2 H55.6 V451.2 H53.8 ZM55.5 449.2 H57.4 V451.2 H55.5 ZM57.3 448.2 H59.2 V451.2 H57.3 ZM59.1 447.2 H61 V451.2 H59.1 ZM60.9 446.2 H62.8 V451.2 H60.9 ZM62.7 446.2 H64.6 V451.2 H62.7 ZM64.5 446.2 H66.4 V451.2 H64.5 ZM66.3 446.2 H68.2 V451.2 H66.3 ZM68.1 447.2 H70 V451.2 H68.1 ZM69.9 447.2 H71.8 V451.2 H69.9 ZM71.7 447.2 H73.6 V451.2 H71.7 ZM73.5 448.2 H75.4 V451.2 H73.5 ZM75.3 448.2 H77.2 V451.2 H75.3 ZM77.1 449.2 H79 V451.2 H77.1 ZM78.9 449.2 H80.8 V451.2 H78.9 ZM80.7 450.2 H82.5 V451.2 H80.7 ZM92.5 448.2 H94.2 V451.2 H92.5 ZM94.2 445.2 H95.9 V451.2 H94.2 ZM95.8 442.2 H97.5 V451.2 H95.8 ZM97.5 442.2 H99.2 V451.2 H97.5 ZM99.2 443.2 H100.9 V451.2 H99.2 ZM100.8 444.2 H102.5 V451.2 H100.8 ZM102.5 445.2 H104.2 V451.2 H102.5 ZM104.2 447.2 H105.9 V451.2 H104.2 ZM105.8 449.2 H107.5 V451.2 H105.8 ZM107.5 450.2 H109.2 V451.2 H107.5 ZM109.2 450.2 H110.9 V451.2 H109.2 ZM110.9 450.2 H112.6 V451.2 H110.9 ZM112.6 449.2 H114.3 V451.2 H112.6 ZM114.3 449.2 H116 V451.2 H114.3 ZM116 449.2 H117.7 V451.2 H116 ZM117.7 449.2 H119.4 V451.2 H117.7 ZM119.4 449.2 H121.1 V451.2 H119.4 ZM121.1 449.2 H122.8 V451.2 H121.1 ZM122.8 450.2 H124.5 V451.2 H122.8 ZM124.5 450.2 H126.2 V451.2 H124.5 ZM126.2 450.2 H127.9 V451.2 H126.2 ZM127.9 450.2 H129.6 V451.2 H127.9 ZM129.6 450.2 H131.3 V451.2 H129.6 ZM148.8 449.2 H150.7 V451.2 H148.8 ZM150.6 448.2 H152.6 V451.2 H150.6 ZM152.5 449.2 H154.4 V451.2 H152.5 ZM154.4 450.2 H156.3 V451.2 H154.4 ZM201.2 450.2 H202.9 V451.2 H201.2 ZM202.8 449.2 H204.4 V451.2 H202.8 ZM204.4 450.2 H206 V451.2 H204.4 ZM205.9 450.2 H207.6 V451.2 H205.9 ZM233.8 450.2 H236.3 V451.2 H233.8 ZM261.5 450.2 H263.3 V451.2 H261.5 ZM263.3 449.2 H265.1 V451.2 H263.3 ZM265.1 447.2 H266.9 V451.2 H265.1 ZM266.9 446.2 H268.7 V451.2 H266.9 ZM268.7 445.2 H270.5 V451.2 H268.7 ZM270.5 445.2 H272.3 V451.2 H270.5 ZM272.3 445.2 H274.1 V451.2 H272.3 ZM274.1 446.2 H275.9 V451.2 H274.1 ZM275.9 446.2 H277.7 V451.2 H275.9 ZM277.7 447.2 H279.5 V451.2 H277.7 ZM279.5 447.2 H281.3 V451.2 H279.5 ZM281.3 447.2 H283.1 V451.2 H281.3 ZM283.1 448.2 H284.9 V451.2 H283.1 ZM284.9 448.2 H286.7 V451.2 H284.9 ZM286.7 449.2 H288.5 V451.2 H286.7 ZM288.5 450.2 H290.3 V451.2 H288.5 ZM324 450.2 H325.8 V451.2 H324 ZM325.7 448.2 H327.5 V451.2 H325.7 ZM327.4 446.2 H329.2 V451.2 H327.4 ZM329.2 444.2 H330.9 V451.2 H329.2 ZM330.9 443.2 H332.6 V451.2 H330.9 ZM332.6 443.2 H334.4 V451.2 H332.6 ZM334.3 443.2 H336.1 V451.2 H334.3 ZM336 444.2 H337.8 V451.2 H336 ZM337.8 444.2 H339.5 V451.2 H337.8 ZM339.5 445.2 H341.2 V451.2 H339.5 ZM341.2 445.2 H343 V451.2 H341.2 ZM342.9 446.2 H344.7 V451.2 H342.9 ZM344.6 446.2 H346.4 V451.2 H344.6 ZM346.3 447.2 H348.1 V451.2 H346.3 ZM348.1 448.2 H349.8 V451.2 H348.1 ZM349.8 449.2 H351.6 V451.2 H349.8 ZM367.8 450.2 H369.5 V451.2 H367.8 ZM369.5 447.2 H371.2 V451.2 H369.5 ZM371.2 446.2 H373 V451.2 H371.2 ZM372.9 446.2 H374.7 V451.2 H372.9 ZM374.6 447.2 H376.4 V451.2 H374.6 ZM376.3 448.2 H378.1 V451.2 H376.3 ZM378.1 448.2 H379.8 V451.2 H378.1 ZM379.8 450.2 H381.6 V451.2 H379.8 ZM414 450.2 H415.8 V451.2 H414 ZM415.7 450.2 H417.5 V451.2 H415.7 ZM417.5 449.2 H419.2 V451.2 H417.5 ZM419.2 449.2 H421 V451.2 H419.2 ZM420.9 448.2 H422.7 V451.2 H420.9 ZM422.7 449.2 H424.4 V451.2 H422.7 ZM424.4 449.2 H426.2 V451.2 H424.4 ZM426.1 449.2 H427.9 V451.2 H426.1 ZM427.8 449.2 H429.6 V451.2 H427.8 ZM429.6 449.2 H431.4 V451.2 H429.6 ZM431.3 450.2 H433.1 V451.2 H431.3 ZM433 450.2 H434.8 V451.2 H433 ZM434.8 450.2 H436.6 V451.2 H434.8 ZM441.5 450.2 H443.3 V451.2 H441.5 ZM443.3 450.2 H445.1 V451.2 H443.3 ZM445.1 450.2 H446.9 V451.2 H445.1 ZM446.9 450.2 H448.7 V451.2 H446.9 ZM448.6 450.2 H450.5 V451.2 H448.6 ZM450.4 450.2 H452.3 V451.2 H450.4 ZM452.2 450.2 H454.1 V451.2 H452.2 ZM456.5 450.2 H458.4 V451.2 H456.5 ZM458.3 450.2 H460.2 V451.2 H458.3 ZM460.1 450.2 H462 V451.2 H460.1 ZM462 449.2 H463.8 V451.2 H462 ZM463.8 449.2 H465.6 V451.2 H463.8 ZM465.6 449.2 H467.5 V451.2 H465.6 ZM467.4 450.2 H469.3 V451.2 H467.4 ZM469.2 450.2 H471.1 V451.2 H469.2 ZM471 450.2 H472.9 V451.2 H471 ZM472.9 450.2 H474.7 V451.2 H472.9 ZM474.7 450.2 H476.6 V451.2 H474.7 ZM488 448.2 H489.7 V451.2 H488 ZM489.7 443.2 H491.4 V451.2 H489.7 ZM491.3 442.2 H493.1 V451.2 H491.3 ZM493 444.2 H494.7 V451.2 H493 ZM494.7 445.2 H496.4 V451.2 H494.7 ZM496.3 448.2 H498.1 V451.2 H496.3 ZM565.5 450.2 H567.4 V451.2 H565.5 ZM567.4 448.2 H569.3 V451.2 H567.4 ZM569.2 447.2 H571.2 V451.2 H569.2 ZM571.1 448.2 H573 V451.2 H571.1 ZM573 449.2 H574.9 V451.2 H573 ZM574.9 450.2 H576.8 V451.2 H574.9 ZM578 450.2 H579.9 V451.2 H578 ZM579.8 450.2 H581.7 V451.2 H579.8 ZM581.6 449.2 H583.5 V451.2 H581.6 ZM583.4 449.2 H585.3 V451.2 H583.4 ZM585.2 449.2 H587.1 V451.2 H585.2 ZM587 450.2 H588.9 V451.2 H587 ZM588.8 450.2 H590.7 V451.2 H588.8 ZM590.6 450.2 H592.5 V451.2 H590.6 ZM592.4 450.2 H594.3 V451.2 H592.4 ZM616.8 449.2 H618.5 V451.2 H616.8 ZM618.5 447.2 H620.3 V451.2 H618.5 ZM620.2 445.2 H622 V451.2 H620.2 ZM622 444.2 H623.7 V451.2 H622 ZM623.7 442.2 H625.5 V451.2 H623.7 ZM625.4 441.2 H627.2 V451.2 H625.4 ZM627.2 441.2 H629 V451.2 H627.2 ZM628.9 442.2 H630.7 V451.2 H628.9 ZM630.6 442.2 H632.4 V451.2 H630.6 ZM632.4 443.2 H634.2 V451.2 H632.4 ZM634.1 443.2 H635.9 V451.2 H634.1 ZM635.8 444.2 H637.6 V451.2 H635.8 ZM637.6 444.2 H639.4 V451.2 H637.6 ZM639.3 445.2 H641.1 V451.2 H639.3 ZM641.1 446.2 H642.8 V451.2 H641.1 ZM642.8 447.2 H644.6 V451.2 H642.8 ZM644.5 448.2 H646.3 V451.2 H644.5 ZM646.3 449.2 H648 V451.2 H646.3 ZM713 450.2 H714.8 V451.2 H713 ZM714.7 450.2 H716.5 V451.2 H714.7 ZM716.5 450.2 H718.2 V451.2 H716.5 ZM718.2 450.2 H720 V451.2 H718.2 ZM719.9 450.2 H721.7 V451.2 H719.9 ZM721.6 450.2 H723.4 V451.2 H721.6 ZM723.4 450.2 H725.1 V451.2 H723.4 ZM725.1 450.2 H726.9 V451.2 H725.1 ZM726.8 450.2 H728.6 V451.2 H726.8 ZM728.5 450.2 H730.3 V451.2 H728.5 ZM730.3 450.2 H732 V451.2 H730.3 ZM713 450.2 H714.9 V451.2 H713 ZM714.8 450.2 H716.7 V451.2 H714.8 ZM716.6 450.2 H718.5 V451.2 H716.6 ZM718.5 450.2 H720.3 V451.2 H718.5 ZM720.3 450.2 H722.1 V451.2 H720.3 ZM722.1 450.2 H724 V451.2 H722.1 ZM723.9 450.2 H725.8 V451.2 H723.9 ZM725.7 450.2 H727.6 V451.2 H725.7 ZM727.5 450.2 H729.4 V451.2 H727.5 ZM729.4 450.2 H731.2 V451.2 H729.4 ZM731.2 450.2 H733 V451.2 H731.2 ZM734.2 448.2 H736 V451.2 H734.2 ZM735.9 444.2 H737.6 V451.2 H735.9 ZM737.6 440.2 H739.3 V451.2 H737.6 ZM739.2 441.2 H741 V451.2 H739.2 ZM740.9 442.2 H742.6 V451.2 H740.9 ZM742.6 443.2 H744.3 V451.2 H742.6 ZM744.2 444.2 H746 V451.2 H744.2 ZM745.9 446.2 H747.6 V451.2 H745.9 ZM747.6 448.2 H749.3 V451.2 H747.6 ZM755.5 450.2 H757.3 V451.2 H755.5 ZM757.3 449.2 H759.1 V451.2 H757.3 ZM759.1 448.2 H760.9 V451.2 H759.1 ZM760.9 446.2 H762.7 V451.2 H760.9 ZM762.6 446.2 H764.5 V451.2 H762.6 ZM764.4 446.2 H766.3 V451.2 H764.4 ZM766.2 446.2 H768 V451.2 H766.2 ZM768 447.2 H769.8 V451.2 H768 ZM769.8 447.2 H771.6 V451.2 H769.8 ZM771.6 448.2 H773.4 V451.2 H771.6 ZM773.4 448.2 H775.2 V451.2 H773.4 ZM775.1 449.2 H777 V451.2 H775.1 ZM776.9 449.2 H778.8 V451.2 H776.9 ZM778.7 450.2 H780.5 V451.2 H778.7 ZM843 450.2 H844.8 V451.2 H843 ZM844.8 448.2 H846.6 V451.2 H844.8 ZM846.5 446.2 H848.4 V451.2 H846.5 ZM848.3 445.2 H850.1 V451.2 H848.3 ZM850.1 445.2 H851.9 V451.2 H850.1 ZM851.9 445.2 H853.7 V451.2 H851.9 ZM853.6 446.2 H855.4 V451.2 H853.6 ZM855.4 446.2 H857.2 V451.2 H855.4 ZM857.2 447.2 H859 V451.2 H857.2 ZM858.9 448.2 H860.8 V451.2 H858.9 ZM860.7 448.2 H862.5 V451.2 H860.7 ZM862.5 450.2 H864.3 V451.2 H862.5 Z" fill="#0a78c4"/><path d="M2.5 451.2 H4.4 V452.2 H2.5 ZM4.4 451.2 H6.3 V453.2 H4.4 ZM6.2 451.2 H8.2 V453.2 H6.2 ZM8.1 451.2 H10.1 V452.2 H8.1 ZM10 451.2 H11.9 V452.2 H10 ZM11.9 451.2 H13.8 V452.2 H11.9 ZM25 451.2 H26.8 V452.2 H25 ZM26.8 451.2 H28.6 V452.2 H26.8 ZM28.6 451.2 H30.4 V453.2 H28.6 ZM30.4 451.2 H32.2 V454.2 H30.4 ZM32.1 451.2 H34 V454.2 H32.1 ZM33.9 451.2 H35.8 V454.2 H33.9 ZM35.7 451.2 H37.5 V454.2 H35.7 ZM37.5 451.2 H39.3 V454.2 H37.5 ZM39.3 451.2 H41.1 V453.2 H39.3 ZM41.1 451.2 H42.9 V453.2 H41.1 ZM42.9 451.2 H44.7 V453.2 H42.9 ZM44.6 451.2 H46.5 V453.2 H44.6 ZM46.4 451.2 H48.3 V452.2 H46.4 ZM48.2 451.2 H50 V452.2 H48.2 ZM131.2 451.2 H133.1 V453.2 H131.2 ZM133.1 451.2 H134.9 V457.2 H133.1 ZM134.9 451.2 H136.7 V460.2 H134.9 ZM136.7 451.2 H138.5 V460.2 H136.7 ZM138.5 451.2 H140.3 V459.2 H138.5 ZM140.3 451.2 H142.1 V458.2 H140.3 ZM142.1 451.2 H143.9 V457.2 H142.1 ZM143.9 451.2 H145.7 V455.2 H143.9 ZM145.7 451.2 H147.6 V453.2 H145.7 ZM156.2 451.2 H158.1 V453.2 H156.2 ZM158.1 451.2 H159.9 V455.2 H158.1 ZM159.9 451.2 H161.7 V457.2 H159.9 ZM161.7 451.2 H163.5 V457.2 H161.7 ZM163.5 451.2 H165.3 V456.2 H163.5 ZM165.3 451.2 H167.1 V456.2 H165.3 ZM167.1 451.2 H168.9 V455.2 H167.1 ZM168.9 451.2 H170.7 V454.2 H168.9 ZM170.7 451.2 H172.6 V453.2 H170.7 ZM175 451.2 H176.8 V452.2 H175 ZM176.8 451.2 H178.6 V454.2 H176.8 ZM178.6 451.2 H180.4 V456.2 H178.6 ZM180.4 451.2 H182.2 V458.2 H180.4 ZM182.1 451.2 H184 V459.2 H182.1 ZM183.9 451.2 H185.8 V458.2 H183.9 ZM185.7 451.2 H187.6 V458.2 H185.7 ZM187.5 451.2 H189.3 V457.2 H187.5 ZM189.3 451.2 H191.1 V457.2 H189.3 ZM191.1 451.2 H192.9 V456.2 H191.1 ZM192.9 451.2 H194.7 V455.2 H192.9 ZM194.6 451.2 H196.5 V455.2 H194.6 ZM196.4 451.2 H198.3 V454.2 H196.4 ZM198.2 451.2 H200.1 V453.2 H198.2 ZM207.5 451.2 H209.2 V452.2 H207.5 ZM209.2 451.2 H210.9 V454.2 H209.2 ZM210.8 451.2 H212.6 V455.2 H210.8 ZM212.5 451.2 H214.2 V455.2 H212.5 ZM214.2 451.2 H215.9 V455.2 H214.2 ZM215.8 451.2 H217.6 V454.2 H215.8 ZM217.5 451.2 H219.2 V454.2 H217.5 ZM219.2 451.2 H220.9 V453.2 H219.2 ZM220.8 451.2 H222.6 V452.2 H220.8 ZM225 451.2 H227.6 V452.2 H225 ZM237.5 451.2 H239.2 V452.2 H237.5 ZM239.1 451.2 H240.8 V453.2 H239.1 ZM240.8 451.2 H242.4 V452.2 H240.8 ZM242.4 451.2 H244.1 V452.2 H242.4 ZM244 451.2 H245.8 V452.2 H244 ZM245.8 451.2 H247.6 V453.2 H245.8 ZM247.5 451.2 H249.3 V454.2 H247.5 ZM249.2 451.2 H251.1 V454.2 H249.2 ZM251 451.2 H252.8 V454.2 H251 ZM252.8 451.2 H254.6 V454.2 H252.8 ZM254.5 451.2 H256.3 V453.2 H254.5 ZM256.2 451.2 H258.1 V453.2 H256.2 ZM258 451.2 H259.8 V452.2 H258 ZM259.8 451.2 H261.6 V452.2 H259.8 ZM291.5 451.2 H293.2 V452.2 H291.5 ZM293.2 451.2 H294.9 V452.2 H293.2 ZM294.8 451.2 H296.6 V453.2 H294.8 ZM296.5 451.2 H298.2 V453.2 H296.5 ZM298.2 451.2 H299.9 V453.2 H298.2 ZM299.8 451.2 H301.6 V452.2 H299.8 ZM301.5 451.2 H303.2 V452.2 H301.5 ZM303.2 451.2 H304.9 V452.2 H303.2 ZM304.8 451.2 H306.6 V452.2 H304.8 ZM306.5 451.2 H308.3 V454.2 H306.5 ZM308.2 451.2 H310.1 V457.2 H308.2 ZM310 451.2 H311.8 V460.2 H310 ZM311.8 451.2 H313.6 V461.2 H311.8 ZM313.5 451.2 H315.3 V460.2 H313.5 ZM315.2 451.2 H317.1 V459.2 H315.2 ZM317 451.2 H318.8 V458.2 H317 ZM318.8 451.2 H320.6 V457.2 H318.8 ZM320.5 451.2 H322.3 V456.2 H320.5 ZM322.2 451.2 H324.1 V453.2 H322.2 ZM352.8 451.2 H354.5 V452.2 H352.8 ZM354.4 451.2 H356.1 V452.2 H354.4 ZM356.1 451.2 H357.8 V453.2 H356.1 ZM357.8 451.2 H359.5 V453.2 H357.8 ZM359.4 451.2 H361.1 V453.2 H359.4 ZM361.1 451.2 H362.8 V453.2 H361.1 ZM362.8 451.2 H364.5 V452.2 H362.8 ZM364.4 451.2 H366.1 V452.2 H364.4 ZM366.1 451.2 H367.8 V452.2 H366.1 ZM382.8 451.2 H384.6 V452.2 H382.8 ZM384.5 451.2 H386.4 V452.2 H384.5 ZM386.3 451.2 H388.2 V452.2 H386.3 ZM388.1 451.2 H390 V452.2 H388.1 ZM389.9 451.2 H391.8 V452.2 H389.9 ZM391.7 451.2 H393.6 V452.2 H391.7 ZM393.5 451.2 H395.4 V452.2 H393.5 ZM395.3 451.2 H397.2 V452.2 H395.3 ZM397.1 451.2 H399 V452.2 H397.1 ZM398.9 451.2 H400.8 V452.2 H398.9 ZM400.7 451.2 H402.6 V452.2 H400.7 ZM402.5 451.2 H404.4 V452.2 H402.5 ZM404.3 451.2 H406.2 V452.2 H404.3 ZM406.1 451.2 H408 V452.2 H406.1 ZM407.9 451.2 H409.8 V452.2 H407.9 ZM409.7 451.2 H411.6 V452.2 H409.7 ZM477.8 451.2 H479.7 V452.2 H477.8 ZM479.6 451.2 H481.6 V452.2 H479.6 ZM501.8 451.2 H503.5 V452.2 H501.8 ZM503.5 451.2 H505.2 V454.2 H503.5 ZM505.2 451.2 H506.9 V455.2 H505.2 ZM506.9 451.2 H508.6 V456.2 H506.9 ZM508.6 451.2 H510.3 V456.2 H508.6 ZM510.3 451.2 H512 V455.2 H510.3 ZM512 451.2 H513.7 V455.2 H512 ZM513.7 451.2 H515.4 V454.2 H513.7 ZM515.4 451.2 H517.1 V454.2 H515.4 ZM517.1 451.2 H518.8 V453.2 H517.1 ZM518.8 451.2 H520.5 V452.2 H518.8 ZM529.2 451.2 H530.9 V452.2 H529.2 ZM530.8 451.2 H532.4 V452.2 H530.8 ZM532.4 451.2 H534 V452.2 H532.4 ZM533.9 451.2 H535.5 V452.2 H533.9 ZM538 451.2 H539.8 V452.2 H538 ZM539.7 451.2 H541.5 V452.2 H539.7 ZM541.5 451.2 H543.2 V453.2 H541.5 ZM543.2 451.2 H545 V454.2 H543.2 ZM544.9 451.2 H546.7 V454.2 H544.9 ZM546.7 451.2 H548.4 V454.2 H546.7 ZM548.4 451.2 H550.2 V454.2 H548.4 ZM550.1 451.2 H551.9 V453.2 H550.1 ZM551.8 451.2 H553.6 V453.2 H551.8 ZM553.6 451.2 H555.4 V453.2 H553.6 ZM555.3 451.2 H557.1 V453.2 H555.3 ZM557 451.2 H558.8 V452.2 H557 ZM558.8 451.2 H560.5 V452.2 H558.8 ZM595.5 451.2 H597.4 V453.2 H595.5 ZM597.3 451.2 H599.2 V457.2 H597.3 ZM599.1 451.2 H601 V460.2 H599.1 ZM601 451.2 H602.8 V462.2 H601 ZM602.8 451.2 H604.6 V461.2 H602.8 ZM604.6 451.2 H606.5 V460.2 H604.6 ZM606.4 451.2 H608.3 V459.2 H606.4 ZM608.2 451.2 H610.1 V458.2 H608.2 ZM610 451.2 H611.9 V457.2 H610 ZM611.9 451.2 H613.7 V456.2 H611.9 ZM613.7 451.2 H615.5 V454.2 H613.7 ZM651.8 451.2 H653.6 V452.2 H651.8 ZM653.5 451.2 H655.3 V452.2 H653.5 ZM655.3 451.2 H657.1 V452.2 H655.3 ZM657.1 451.2 H658.9 V453.2 H657.1 ZM658.8 451.2 H660.7 V453.2 H658.8 ZM660.6 451.2 H662.4 V453.2 H660.6 ZM662.4 451.2 H664.2 V452.2 H662.4 ZM664.1 451.2 H666 V452.2 H664.1 ZM665.9 451.2 H667.7 V452.2 H665.9 ZM667.7 451.2 H669.5 V452.2 H667.7 ZM669.5 451.2 H671.3 V452.2 H669.5 ZM671.2 451.2 H673 V452.2 H671.2 ZM683 451.2 H684.8 V452.2 H683 ZM684.8 451.2 H686.6 V453.2 H684.8 ZM686.6 451.2 H688.4 V454.2 H686.6 ZM688.4 451.2 H690.2 V455.2 H688.4 ZM690.2 451.2 H692 V456.2 H690.2 ZM692 451.2 H693.8 V456.2 H692 ZM693.8 451.2 H695.6 V456.2 H693.8 ZM695.6 451.2 H697.4 V456.2 H695.6 ZM697.4 451.2 H699.2 V455.2 H697.4 ZM699.2 451.2 H701 V455.2 H699.2 ZM701 451.2 H702.8 V455.2 H701 ZM702.8 451.2 H704.6 V454.2 H702.8 ZM704.6 451.2 H706.4 V454.2 H704.6 ZM706.4 451.2 H708.2 V453.2 H706.4 ZM708.2 451.2 H710 V453.2 H708.2 ZM710 451.2 H711.8 V452.2 H710 ZM683 451.2 H684.8 V452.2 H683 ZM684.8 451.2 H686.6 V453.2 H684.8 ZM686.6 451.2 H688.4 V454.2 H686.6 ZM688.4 451.2 H690.2 V454.2 H688.4 ZM690.2 451.2 H692 V455.2 H690.2 ZM692 451.2 H693.8 V455.2 H692 ZM693.8 451.2 H695.6 V455.2 H693.8 ZM695.6 451.2 H697.4 V455.2 H695.6 ZM697.4 451.2 H699.2 V455.2 H697.4 ZM699.2 451.2 H701 V454.2 H699.2 ZM701 451.2 H702.8 V454.2 H701 ZM702.8 451.2 H704.6 V454.2 H702.8 ZM704.6 451.2 H706.4 V453.2 H704.6 ZM706.4 451.2 H708.2 V453.2 H706.4 ZM708.2 451.2 H710 V452.2 H708.2 ZM710 451.2 H711.8 V452.2 H710 ZM781.8 451.2 H783.7 V452.2 H781.8 ZM783.6 451.2 H785.5 V454.2 H783.6 ZM785.5 451.2 H787.4 V454.2 H785.5 ZM787.4 451.2 H789.3 V454.2 H787.4 ZM789.2 451.2 H791.2 V453.2 H789.2 ZM791.1 451.2 H793 V452.2 H791.1 ZM796.8 451.2 H798.7 V452.2 H796.8 ZM798.6 451.2 H800.5 V452.2 H798.6 ZM800.5 451.2 H802.4 V452.2 H800.5 ZM802.4 451.2 H804.3 V452.2 H802.4 ZM804.2 451.2 H806.2 V452.2 H804.2 ZM806.1 451.2 H808 V452.2 H806.1 ZM811.8 451.2 H813.5 V452.2 H811.8 ZM813.5 451.2 H815.2 V453.2 H813.5 ZM815.2 451.2 H816.9 V454.2 H815.2 ZM816.9 451.2 H818.6 V455.2 H816.9 ZM818.6 451.2 H820.3 V455.2 H818.6 ZM820.3 451.2 H822 V454.2 H820.3 ZM822 451.2 H823.7 V454.2 H822 ZM823.7 451.2 H825.4 V454.2 H823.7 ZM825.4 451.2 H827.1 V453.2 H825.4 ZM827.1 451.2 H828.8 V453.2 H827.1 ZM828.8 451.2 H830.5 V452.2 H828.8 ZM833 451.2 H834.7 V452.2 H833 ZM834.7 451.2 H836.4 V454.2 H834.7 ZM836.3 451.2 H838 V454.2 H836.3 ZM838 451.2 H839.7 V454.2 H838 ZM839.7 451.2 H841.4 V453.2 H839.7 ZM841.3 451.2 H843 V452.2 H841.3 ZM865.5 451.2 H867.2 V452.2 H865.5 ZM867.2 451.2 H868.9 V453.2 H867.2 ZM868.8 451.2 H870.5 V453.2 H868.8 ZM870.5 451.2 H872.2 V452.2 H870.5 ZM872.2 451.2 H873.9 V452.2 H872.2 ZM873.8 451.2 H875.5 V452.2 H873.8 ZM883 451.2 H884.9 V453.2 H883 ZM884.9 451.2 H886.8 V456.2 H884.9 ZM886.8 451.2 H888.7 V455.2 H886.8 ZM888.7 451.2 H890.6 V454.2 H888.7 ZM890.6 451.2 H892.5 V453.2 H890.6 Z" fill="#d40000"/><path d="M3 438.8 C4.2 439 7.2 439.9 10 440.5 C12.8 441.1 17.1 441.8 20 442.5 C22.9 443.2 25 443.5 27.5 444.5 C30 445.5 32.3 447.1 35 448.8 C37.7 450.4 41.5 453.4 43.8 454.5 C46 455.6 46.7 455.8 48.8 455.5 C50.8 455.2 53.5 454.8 56.2 453 C59 451.2 61.9 448 65 445 C68.1 442 71.7 436.9 75 435 C78.3 433.1 82.1 434 85 433.8 C87.9 433.5 90.6 435.4 92.5 433.8 C94.4 432.1 94.6 426.9 96.2 423.8 C97.9 420.6 100.2 417 102.5 415 C104.8 413 107.5 412.6 110 412 C112.5 411.4 115.4 411.5 117.5 411.2 C119.6 411 120.6 411 122.5 410.5 C124.4 410 127.1 407.9 128.8 408 C130.4 408.1 131.2 409.2 132.5 411.2 C133.8 413.2 134.8 417.3 136.2 420 C137.7 422.7 139.6 426.5 141.2 427.5 C142.9 428.5 144.8 427.1 146.2 426.2 C147.7 425.4 148.5 423 150 422.5 C151.5 422 153.3 422 155 423 C156.7 424 158.3 426.8 160 428.8 C161.7 430.8 162.9 433.3 165 435 C167.1 436.7 170 436.9 172.5 438.8 C175 440.6 177.7 443.5 180 446.2 C182.3 449 184 452.7 186.2 455 C188.5 457.3 191.7 459 193.8 460 C195.8 461 197.1 461.5 198.8 461.2 C200.4 461 202.1 459 203.8 458.8 C205.4 458.5 206.9 458.6 208.8 460 C210.6 461.4 213.1 465.5 215 467 C216.9 468.5 217.5 468.5 220 468.8 C222.5 469 226.7 468.4 230 468.8 C233.3 469.1 237.7 470.3 240 470.8 C242.3 471.2 242.1 470.5 244 471.2 C245.9 472 249 473.6 251.5 475 C254 476.4 256.5 480.5 259 479.5 C261.5 478.5 264 471.8 266.5 468.8 C269 465.7 271.5 462.9 274 461.2 C276.5 459.6 279.2 459.5 281.5 458.8 C283.8 458 285.2 456.8 287.8 457 C290.2 457.2 293.8 458.9 296.5 460 C299.2 461.1 301.9 462.1 304 463.8 C306.1 465.4 307.3 467.1 309 470 C310.7 472.9 312.3 478.3 314 481.2 C315.7 484.2 317.3 487.3 319 487.5 C320.7 487.7 321.9 485 324 482.5 C326.1 480 329 475.6 331.5 472.5 C334 469.4 336.5 466.3 339 463.8 C341.5 461.2 344.4 458.2 346.5 457 C348.6 455.8 349.4 455.5 351.5 456.2 C353.6 457 356.5 460.2 359 461.2 C361.5 462.3 364 463.3 366.5 462.5 C369 461.7 371.7 458.3 374 456.2 C376.3 454.2 377.8 450.4 380.2 450 C382.8 449.6 385.9 452.2 389 453.8 C392.1 455.3 395.7 458.1 399 459.5 C402.3 460.9 405.7 462.4 409 462 C412.3 461.6 415.7 458.4 419 457 C422.3 455.6 424.8 454.4 429 453.8 C433.2 453.1 439 453.4 444 453 C449 452.6 454 451.8 459 451.2 C464 450.7 470.2 449.7 474 449.5 C477.8 449.3 479.6 450.5 481.5 450 C483.4 449.5 484.2 447.7 485.2 446.2 C486.3 444.8 486.9 443.2 488 441.2 C489.1 439.3 490.3 436 491.8 434.5 C493.2 433 495.1 432.3 496.8 432 C498.4 431.7 500.1 431.6 501.8 432.5 C503.4 433.4 504.9 435.5 506.8 437.5 C508.6 439.5 510.7 443.2 513 444.5 C515.3 445.8 518 445.3 520.5 445.5 C523 445.7 525.7 445.8 528 445.5 C530.3 445.2 532.2 443.5 534.2 443.8 C536.3 444 538.2 445.8 540.5 447 C542.8 448.2 545.5 449.7 548 451.2 C550.5 452.8 553 455.5 555.5 456.2 C558 457 560.1 456.3 563 455.5 C565.9 454.7 570.1 452.6 573 451.2 C575.9 449.9 578 448.6 580.5 447.5 C583 446.4 585.9 445.1 588 444.5 C590.1 443.9 591.3 443.2 593 443.8 C594.7 444.2 596.1 444.2 598 447.5 C599.9 450.8 602.4 459.8 604.2 463.8 C606.1 467.7 607.6 470.1 609.2 471.2 C610.9 472.4 612.4 471.5 614.2 470.5 C616.1 469.5 618.2 467.6 620.5 465.5 C622.8 463.4 625.5 461.6 628 458 C630.5 454.4 633 447 635.5 443.8 C638 440.5 640.5 439.7 643 438.8 C645.5 437.8 648.4 437.6 650.5 438 C652.6 438.4 653.4 440 655.5 441.2 C657.6 442.5 660.5 444.4 663 445.5 C665.5 446.6 668 447.8 670.5 448 C673 448.2 675.9 446.9 678 447 C680.1 447.1 680.9 447.8 683 448.8 C685.1 449.7 688 450.6 690.5 452.5 C693 454.4 695.7 458 698 460 C700.3 462 701.8 464 704.2 464.5 C706.8 465 709.9 463.3 713 463 C716.1 462.7 719.7 462.8 723 462.5 C726.3 462.2 730.5 463.3 733 461.2 C735.5 459.2 736.1 452.8 738 450 C739.9 447.2 741.8 445.5 744.2 444.5 C746.8 443.5 750.7 444.3 753 443.8 C755.3 443.2 755.9 442.9 758 441.2 C760.1 439.6 763 435.4 765.5 433.8 C768 432.1 770.7 431.7 773 431.2 C775.3 430.8 777.2 430.4 779.2 431.2 C781.3 432.1 783.2 435.2 785.5 436.2 C787.8 437.3 790.1 437.1 793 437.5 C795.9 437.9 799.7 438.1 803 438.8 C806.3 439.4 810.1 440 813 441.2 C815.9 442.5 818.4 444.9 820.5 446.2 C822.6 447.6 823.4 448.9 825.5 449.5 C827.6 450.1 830.5 449.7 833 450 C835.5 450.3 838 451.7 840.5 451.2 C843 450.8 845.5 449.4 848 447.5 C850.5 445.6 853.4 441.5 855.5 440 C857.6 438.5 858.4 438.5 860.5 438.8 C862.6 439 865.1 440.4 868 441.2 C870.9 442.1 875.1 442.4 878 443.8 C880.9 445.1 883.2 448.1 885.5 449.5 C887.8 450.9 890.7 451.6 891.8 452" stroke="#2b93dc" stroke-width="1.4" fill="none" stroke-linejoin="round"/><path d="M3 439.5 C4.6 439.8 8.8 440.5 12.5 441.2 C16.2 442 20.8 442.3 25 443.8 C29.2 445.2 33.8 448.3 37.5 450 C41.2 451.7 44.2 453.1 47.5 453.8 C50.8 454.4 54.6 454.6 57.5 453.8 C60.4 452.9 62.1 451.2 65 448.8 C67.9 446.2 71.7 441 75 438.8 C78.3 436.5 82.1 435.6 85 435 C87.9 434.4 90 437.1 92.5 435 C95 432.9 97.5 425.8 100 422.5 C102.5 419.2 104.6 416.7 107.5 415 C110.4 413.3 113.8 413.3 117.5 412.5 C121.2 411.7 126.7 409.6 130 410 C133.3 410.4 135.2 412.7 137.5 415 C139.8 417.3 141.7 422.1 143.8 423.8 C145.8 425.4 147.7 425 150 425 C152.3 425 155 422.9 157.5 423.8 C160 424.6 162.1 427.7 165 430 C167.9 432.3 171.7 434.8 175 437.5 C178.3 440.2 182.5 443.1 185 446.2 C187.5 449.4 187.9 454 190 456.2 C192.1 458.5 194.6 459.5 197.5 460 C200.4 460.5 204.6 458.7 207.5 459.5 C210.4 460.3 212.5 463.6 215 465 C217.5 466.4 219.2 467.4 222.5 468 C225.8 468.6 231.7 468.4 235 468.8 C238.3 469.1 241 470 242.5 470.2 C244 470.5 242.1 469.2 244 470 C245.9 470.8 250.9 473.7 254 475 C257.1 476.3 259.4 479.2 262.8 478 C266.1 476.8 269.8 470.8 274 467.5 C278.2 464.2 283.6 459.3 287.8 458 C291.9 456.7 295.5 458.1 299 459.5 C302.5 460.9 305.7 462.6 309 466.2 C312.3 469.9 316.5 478.1 319 481.2 C321.5 484.4 321.5 485.8 324 485 C326.5 484.2 330.7 479.8 334 476.2 C337.3 472.7 341.1 467 344 463.8 C346.9 460.5 348.6 457.7 351.5 457 C354.4 456.3 358.6 459 361.5 459.5 C364.4 460 366.1 461.2 369 460 C371.9 458.8 376.1 453.8 379 452.5 C381.9 451.2 383.2 451.5 386.5 452.5 C389.8 453.5 394.8 457.2 399 458.8 C403.2 460.3 407.3 462.2 411.5 462 C415.7 461.8 419 458.9 424 457.5 C429 456.1 435.7 454.6 441.5 453.8 C447.3 452.9 453.6 453.2 459 452.5 C464.4 451.8 469.4 450.1 474 449.5 C478.6 448.9 484.2 449.3 486.5 448.8 C488.8 448.2 486.9 448.1 488 446.2 C489.1 444.4 490.7 439.9 493 437.5 C495.3 435.1 499.2 432.4 501.8 432 C504.2 431.6 505.7 433.2 508 435 C510.3 436.8 512.6 440.8 515.5 442.5 C518.4 444.2 522.2 445.1 525.5 445.5 C528.8 445.9 532.2 444.5 535.5 445 C538.8 445.5 542.6 447.5 545.5 448.8 C548.4 450 550.5 451.2 553 452.5 C555.5 453.8 557.6 456.2 560.5 456.2 C563.4 456.2 566.8 453.8 570.5 452.5 C574.2 451.2 578.8 450.1 583 448.8 C587.2 447.4 592.4 444.1 595.5 444.5 C598.6 444.9 599.7 448.2 601.8 451.2 C603.8 454.2 605.7 459.4 608 462.5 C610.3 465.6 613 469.7 615.5 470 C618 470.3 620.1 467 623 464.5 C625.9 462 630.1 458.5 633 455 C635.9 451.5 637.6 446.5 640.5 443.8 C643.4 441 646.8 438.6 650.5 438.8 C654.2 438.9 659.2 443 663 444.5 C666.8 446 669.7 447 673 447.5 C676.3 448 680.5 447.3 683 447.5 C685.5 447.7 685.9 447.6 688 448.8 C690.1 449.9 692.2 452 695.5 454.5 C698.8 457 703.8 462.2 708 463.8 C712.2 465.3 716.3 464.2 720.5 463.8 C724.7 463.3 729.2 463.8 733 461.2 C736.8 458.8 740.5 451.5 743 448.8 C745.5 446 745.5 446 748 445 C750.5 444 754.7 444.5 758 443 C761.3 441.5 764.2 438.2 768 436.2 C771.8 434.3 776.3 431.4 780.5 431.2 C784.7 431.1 788.4 434.1 793 435.5 C797.6 436.9 803.4 438.1 808 439.5 C812.6 440.9 816.8 442.2 820.5 443.8 C824.2 445.3 827.6 447.3 830.5 448.8 C833.4 450.2 835.1 452.5 838 452.5 C840.9 452.5 844.7 450.8 848 448.8 C851.3 446.7 855.1 441.5 858 440 C860.9 438.5 861.8 438.8 865.5 439.5 C869.2 440.2 877 443.2 880.5 444.5 C884 445.8 884.8 446.4 886.8 447.5 C888.8 448.6 891.5 450.6 892.5 451.2" stroke="#e0202a" stroke-width="1.4" fill="none" stroke-linejoin="round"/><path d="M3.1 537.8 L5 536.2 L6.9 533.5 L8.8 535 L10.6 534 L12.5 531.9 L14.4 531.2 L15.2 529.4 L16.2 531.9 L17.5 535.6 L19.4 535.4 L21.2 533.1 L22.5 533.8 L24.4 536.9 L26.9 538.1 L29.4 539.4 L31.9 542.5 L33.1 543.8 L35.6 540 L37.5 544.4 L40 543.1 L41.9 545.6 L43.8 543.1 L46.2 541.2 L48.8 538.1 L50.6 540.6 L52.5 539.4 L55 535 L56.9 531.2 L58.8 533.1 L61.2 527.5 L63.8 524.8 L66.2 525 L68.1 527.5 L70 522.5 L73.1 521.2 L75.6 521.9 L78.1 523.8 L80.6 527.8 L82.5 524.4 L84.4 524.4 L86.2 528.5 L88.1 526.2 L90.6 525.2 L92.5 515 L95 512.2 L96.9 512.8 L98.8 514.8 L101.9 513.1 L103.1 518.1 L106.2 519.4 L109.4 521 L111.9 517.5 L115.6 515 L118.1 516 L122 513.1 L124.5 516.9 L127.6 513.1 L129.5 517.5 L132 525 L133.2 533.1 L134.5 531.9 L136.4 534.4 L138.9 537.5 L141.4 532.5 L143.9 528.1 L145.8 527.2 L147.6 523.8 L149.5 523.1 L152 524.8 L155.1 525.6 L157 529.4 L158.9 536.2 L161.4 537.8 L163.2 538.8 L165.1 537.2 L168.9 531.9 L170.8 534 L172 533.1 L175.1 536.9 L177 541.9 L180.1 545 L183.2 547.5 L187 543.1 L189.5 548.8 L192.6 545 L194.5 546.2 L197 545.6 L202 535.6 L204.5 539.4 L206.4 540.6 L210.1 551.2 L212 550.6 L214.5 546.9 L215.8 549.4 L218.2 544.4 L221.4 544.4 L224.5 548.8 L228.2 544.4 L230.1 546.9 L232.6 545.6 L233.9 543.1 L237.6 549.4 L240.1 548.1 L242 549.4 L244 548.1 L246.5 549.4 L248.4 550 L250.2 553.8 L252.8 555.6 L255.2 556.5 L257.8 556 L259.2 556.2 L260.9 541.2 L262.1 538.8 L264 541.9 L266.5 540.6 L269 540.6 L270.9 537.8 L274 537.8 L277.8 542.5 L279.6 538.8 L281.5 539 L282.8 536 L287.1 536.9 L290.2 545 L292.1 546.9 L294 542.5 L295.9 541.9 L297.8 546.2 L301.5 549.4 L304 549.4 L306.5 548.1 L308.4 557.5 L310.9 561.2 L314 560.6 L316.5 556.9 L319 558.1 L320.2 556.9 L325.2 540.6 L327.8 538.8 L330.9 540.6 L332.8 538.5 L334.6 538.8 L336.5 537.2 L338.4 540.4 L340.9 534.4 L344.6 531.9 L347.1 537.2 L350.2 540.6 L352.1 545 L355.9 546.9 L359 544 L362.8 544.8 L364.6 546.2 L366 541.2 L367.9 534.4 L369.8 533.5 L371 531.9 L372.9 534.8 L374.8 534.4 L376.6 529.4 L378.5 536.9 L380.4 540.6 L382.2 540.6 L384.1 538.8 L385.4 541.5 L386.6 538.8 L388.5 539.8 L392.2 543.1 L395.4 543.1 L397.9 541.9 L399.1 546.2 L401.6 544.8 L404.8 545 L407.2 546.9 L409.8 542.8 L412.9 542.5 L414.8 535 L418.5 536.2 L422.2 540.6 L424.8 539.4 L426.6 536.9 L429.1 533.1 L431 540.6 L434.1 537.2 L436 540.2 L438.5 539.4 L441 539.4 L442.9 536.2 L444.8 539.4 L448.5 537.8 L451 535.2 L454.1 543.1 L456 542.5 L459.1 534.4 L462.2 536.2 L466 533.1 L467.9 534.4 L470.4 531.9 L476.6 539.8 L481 538.1 L482.9 530.6 L486 526.9 L488 514.4 L489.2 515 L491.1 521.2 L493.6 523.1 L496.1 523.8 L498 529.4 L499.9 527.8 L501.8 528.8 L503 538.5 L505.5 538.1 L508 536.5 L509.9 537.5 L511.1 541 L514.2 534.8 L516.8 534.8 L521.1 535 L523 536.5 L526.1 530 L528 533.8 L529.9 539.4 L533 528.1 L536.8 539.4 L539.2 538.1 L541.8 540.6 L544.2 539.8 L547.4 540 L549.2 543.1 L551.1 542.8 L553.6 546 L555.5 542.5 L557.4 540 L560.5 538.8 L563 537.5 L564.5 540.6 L566.8 528.8 L568.6 532.5 L570.5 532.5 L573 535.6 L574.9 536.5 L576.8 538.5 L579.9 534 L583 532.5 L584.9 530.2 L588 532.8 L590.5 530.6 L592.4 531.2 L594.2 538.8 L598 546.2 L599.9 548.5 L601.8 545.2 L606.1 555.6 L608 554.4 L610 548.1 L611 541.2 L612.5 543.8 L615 541.2 L618.1 538.5 L621.2 537.2 L623.1 538.8 L625 535 L628.8 530 L631.2 527.5 L633.8 525 L636.2 530 L639.4 528.8 L642.5 528.5 L644.4 533.1 L647.5 534 L650.2 529 L652.5 535 L655 539 L657.5 539.8 L660 537.2 L662.5 539 L665.6 540.6 L667.2 536 L668.8 540 L672.5 531.9 L675.6 531.9 L680 539.4 L682.5 539.4 L685 538.1 L688.8 543.8 L692.5 547.5 L695.6 546.9 L698.8 550.6 L700.6 549 L703.1 550.6 L706.2 541.2 L708.8 545 L711.9 544.8 L713.1 541.9 L715 547.5 L716.9 544 L721.2 543.8 L723.8 541.2 L725.6 543.8 L728.8 543.5 L732 543.8 L734.2 542.2 L736 521.2 L737.6 522.5 L742 530 L744.5 532.8 L747 536.5 L749.5 534.4 L752 535 L753.9 532.2 L755.1 534.4 L757 529 L759.5 528.1 L762 524.8 L764.5 527.8 L767 525.6 L769.5 522.8 L771.4 523.1 L773.2 525.6 L775.1 523.1 L778.2 529 L782 528.1 L784.5 534 L787 534.4 L789.5 529.4 L792 526.2 L795.8 532.8 L800.1 534.8 L805.1 528.5 L808.2 532.5 L810.8 530.6 L812.6 531.5 L815.1 536.5 L818.2 535.6 L820 541.9 L821.2 544 L824.4 544.8 L828.1 532.8 L831.2 534 L835 547.5 L838.8 537.8 L841.9 536.2 L845 531.5 L848.8 528.1 L851.2 528.8 L855 523.1 L856.9 525.6 L860 531.9 L863.1 532.2 L866.2 538.1 L868.1 536.2 L870 536.5 L874.4 531.2 L877.5 535.6 L879.4 535.2 L881.9 543.1 L883.8 543.8 L885.6 547.5 L888.1 539.4 L890.6 537.8 L893.1 535" stroke="#30383d" stroke-width="1.15" fill="none" stroke-linejoin="round"/></svg>
<svg width="976" height="600" style="position:absolute;left:0;top:0"><rect x="6" y="341" width="10" height="5.6" fill="#a9a9a9"/><rect x="12.7" y="342.1" width="2.3" height="0.8" fill="#fff"/><rect x="10.7" y="344.9" width="4.3" height="1" fill="#fff"/><rect x="6" y="347.9" width="10" height="1.9" fill="#a9a9a9"/><path d="M19.6 342.4L26.2 349M26.2 342.4L19.6 349" stroke="#a9a9a9" stroke-width="2.4" stroke-linecap="square"/><rect x="6" y="355" width="10" height="5.6" fill="#a9a9a9"/><rect x="12.7" y="356.1" width="2.3" height="0.8" fill="#fff"/><rect x="10.7" y="358.9" width="4.3" height="1" fill="#fff"/><rect x="6" y="361.9" width="10" height="1.9" fill="#a9a9a9"/><path d="M19.6 356.4L26.2 363M26.2 356.4L19.6 363" stroke="#a9a9a9" stroke-width="2.4" stroke-linecap="square"/><rect x="6" y="369" width="10" height="5.6" fill="#a9a9a9"/><rect x="12.7" y="370.1" width="2.3" height="0.8" fill="#fff"/><rect x="10.7" y="372.9" width="4.3" height="1" fill="#fff"/><rect x="6" y="375.9" width="10" height="1.9" fill="#a9a9a9"/><path d="M19.6 370.4L26.2 377M26.2 370.4L19.6 377" stroke="#a9a9a9" stroke-width="2.4" stroke-linecap="square"/><rect x="6" y="383" width="10" height="5.6" fill="#a9a9a9"/><rect x="12.7" y="384.1" width="2.3" height="0.8" fill="#fff"/><rect x="10.7" y="386.9" width="4.3" height="1" fill="#fff"/><rect x="6" y="389.9" width="10" height="1.9" fill="#a9a9a9"/><path d="M19.6 384.4L26.2 391M26.2 384.4L19.6 391" stroke="#a9a9a9" stroke-width="2.4" stroke-linecap="square"/><rect x="6" y="482" width="10" height="5.6" fill="#a9a9a9"/><rect x="12.7" y="483.1" width="2.3" height="0.8" fill="#fff"/><rect x="10.7" y="485.9" width="4.3" height="1" fill="#fff"/><rect x="6" y="488.9" width="10" height="1.9" fill="#a9a9a9"/><path d="M19.6 483.4L26.2 490M26.2 483.4L19.6 490" stroke="#a9a9a9" stroke-width="2.4" stroke-linecap="square"/><rect x="6" y="561" width="10" height="5.6" fill="#a9a9a9"/><rect x="12.7" y="562.1" width="2.3" height="0.8" fill="#fff"/><rect x="10.7" y="564.9" width="4.3" height="1" fill="#fff"/><rect x="6" y="567.9" width="10" height="1.9" fill="#a9a9a9"/><path d="M19.6 562.4L26.2 569M26.2 562.4L19.6 569" stroke="#a9a9a9" stroke-width="2.4" stroke-linecap="square"/><path d="M89 16.5 H96 L92.5 20.5Z" fill="#888"/><path d="M165 17 H172 L168.5 20.5Z" fill="#888"/></svg>
<div class="yl" style="top:46.9px">247.52</div><div class="yl" style="top:81.7px">237.97</div><div class="yl" style="top:116.6px">228.43</div><div class="yl" style="top:151.4px">218.88</div><div class="yl" style="top:186.3px">209.33</div><div class="yl" style="top:221.1px">199.78</div><div class="yl" style="top:255.9px">190.23</div><div class="yl" style="top:290.8px">180.68</div><div class="yl" style="top:325.6px">171.14</div><div class="yl" style="top:360.5px">161.59</div><div class="yl" style="top:389.5px">152.04</div><div class="yl" style="top:401.5px">13.23623</div><div class="yl" style="top:427px">4.41208</div><div class="yl" style="top:459.5px">-4.41208</div><div class="yl" style="top:486.5px">-13.2362</div><div class="yl" style="top:516px">70.0</div><div class="yl" style="top:563.5px">0.0</div><div class="xl" style="left:2.5px">21.11.2023</div><div class="xl" style="left:151.5px">26.03.2024</div><div class="xl" style="left:301.5px">29.07.2024</div><div class="xl" style="left:451.5px">26.11.2024</div><div class="xl" style="left:601.5px">02.04.2025</div><div class="xl" style="left:750.5px">05.08.2025</div><div class="xl" style="left:900.5px">01.12.2025</div>
<div style="position:absolute;left:20px;top:13px;font-size:12px;font-weight:bold;color:#3d474c;letter-spacing:-0.2px">TM.US</div>
<div style="position:absolute;left:59.5px;top:13.5px;font-size:8.6px;line-height:10px;font-weight:bold;color:#8e9397;letter-spacing:-0.3px;-webkit-text-stroke:0.25px #8e9397">Akcje</div>
<div style="position:absolute;left:136.5px;top:14px;font-size:9.6px;line-height:12px;color:#5a6266">D1</div>
<div class="lg" style="top:343px">EMA [50,  0] 200.07</div>
<div class="lg" style="top:357px">EMA [50,  0] 200.07</div>
<div class="lg" style="top:371px">EMA [200,  0] 192.23</div>
<div class="lg" style="top:385px">EMA [200,  0] 192.23</div>
<div class="lg" style="top:483.5px;word-spacing:1.0px">MACD [14, 30, 7] -0.21789,  -0.08812</div>
<div class="lg" style="top:563.5px">RSI [14] 52.8</div>
<svg width="976" height="600" style="position:absolute;left:0;top:0"><path d="M904 218.5 L912 210 H964 V227 H912 Z" fill="#7d8a90"/></svg>
<div style="position:absolute;left:915.5px;top:212.5px;font-size:12.3px;line-height:15px;color:#fff;-webkit-text-stroke:0.35px #fff">202.25</div>
<div style="position:absolute;left:849px;top:372px;font-size:15px;line-height:17px;white-space:pre"><span style="color:#ff8c1a">07</span><span style="color:#b4b9bc">h </span><span style="color:#ff8c1a">38</span><span style="color:#b4b9bc">m</span></div>
</body></html>
